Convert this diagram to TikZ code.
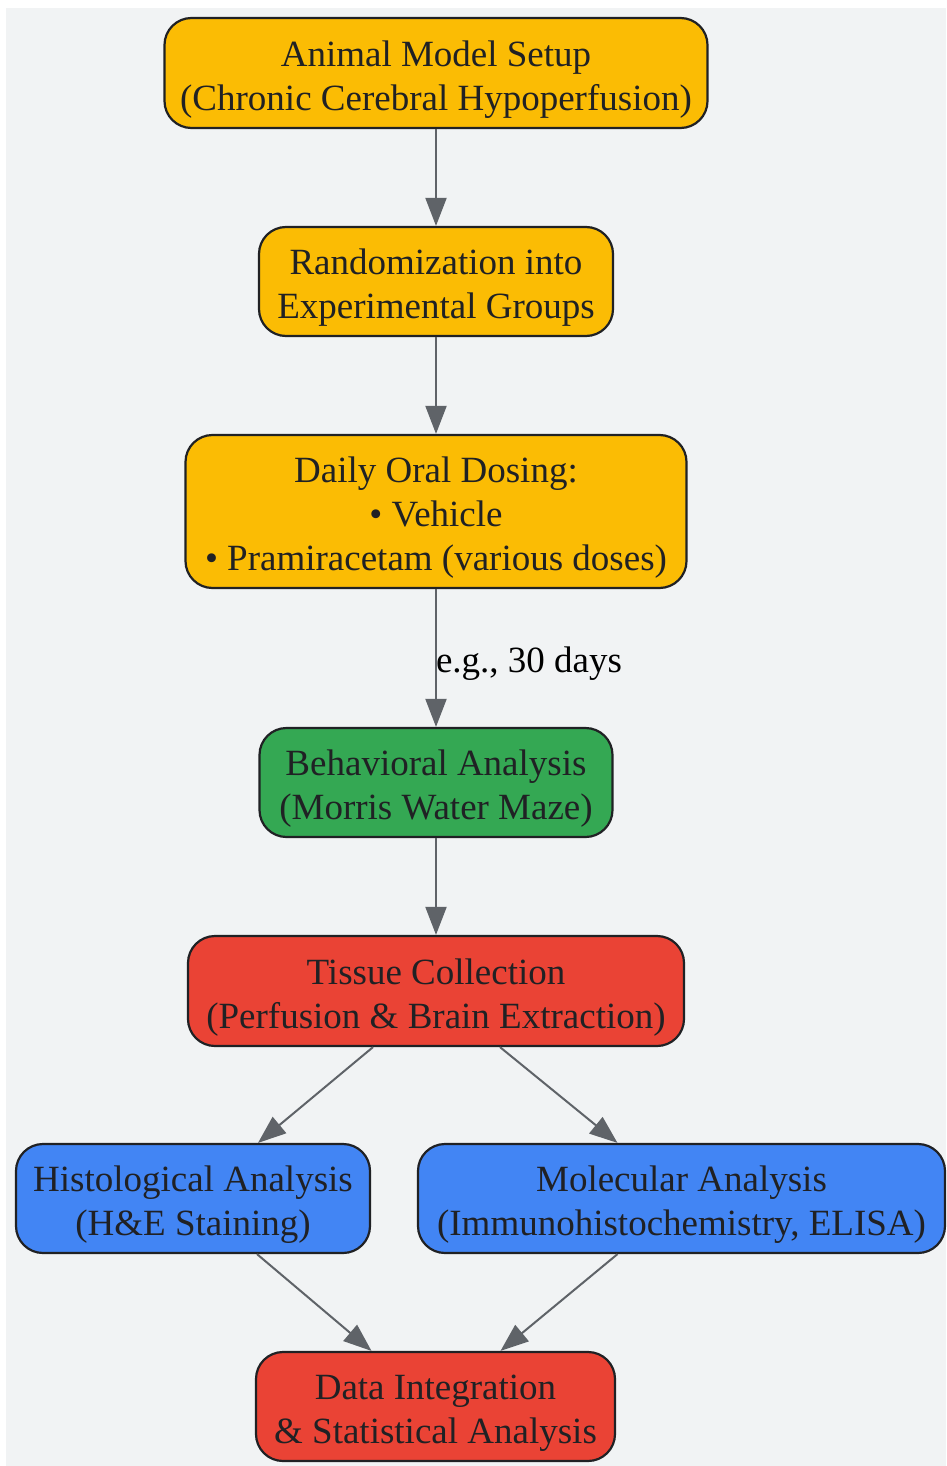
\documentclass[tikz,border=0pt]{standalone}
\usepackage{fontspec}
\setmainfont{Liberation Serif}
\usetikzlibrary{arrows.meta,calc}
\definecolor{bgc}{HTML}{F1F3F4}
\definecolor{yel}{HTML}{FBBC04}
\definecolor{grn}{HTML}{34A853}
\definecolor{redc}{HTML}{EA4335}
\definecolor{blu}{HTML}{4285F4}
\definecolor{bord}{HTML}{202124}
\definecolor{arr}{HTML}{5F6368}
\newcommand{\boxtext}[1]{\raisebox{-6.5pt}[\height][\depth]{\begin{tabular}{@{}c@{}}#1\end{tabular}}}
\tikzset{
  box/.style={draw=bord, line width=2.2pt, rounded corners=27pt,
    inner sep=0pt, text=bord, font=\fontsize{37}{44}\selectfont},
  conn/.style={draw=arr, line width=2pt, -{Triangle[length=28pt,width=21pt]}},
}
\begin{document}
\begin{tikzpicture}[x=1pt,y=-1pt]
\useasboundingbox (0,0) rectangle (946,1466);
\fill[white] (0,0) rectangle (946,1466);
\fill[bgc] (6,8) rectangle (946,1466);
\node[box, fill=yel, minimum width=543pt, minimum height=110pt] (setup) at (436,73) {\boxtext{Animal Model Setup\\(Chronic Cerebral Hypoperfusion)}};
\node[box, fill=yel, minimum width=354pt, minimum height=109pt] (rand) at (436,281.5) {\boxtext{Randomization into\\Experimental Groups}};
\node[box, fill=yel, minimum width=501pt, minimum height=153pt] (dose) at (436,511.5) {\boxtext{Daily Oral Dosing:\\• Vehicle\\• Pramiracetam (various doses)}};
\node[box, fill=grn, minimum width=353pt, minimum height=109pt] (behav) at (436,782.5) {\boxtext{Behavioral Analysis\\(Morris Water Maze)}};
\node[box, fill=redc, minimum width=496pt, minimum height=110pt] (tissue) at (436,991) {\boxtext{Tissue Collection\\(Perfusion \& Brain Extraction)}};
\node[box, fill=blu, minimum width=354pt, minimum height=109pt] (hist) at (193,1198.5) {\boxtext{Histological Analysis\\(H\&E Staining)}};
\node[box, fill=blu, minimum width=527pt, minimum height=109pt] (mol) at (681.5,1198.5) {\boxtext{Molecular Analysis\\(Immunohistochemistry, ELISA)}};
\node[box, fill=redc, minimum width=359pt, minimum height=109pt] (data) at (435.5,1406.5) {\boxtext{Data Integration\\\& Statistical Analysis}};

\draw[conn] (setup.south) -- (rand.north);
\draw[conn] (rand.south) -- (dose.north);
\draw[conn] (dose.south) -- node[right, inner sep=0pt, xshift=-1pt, yshift=-6pt, font=\fontsize{37}{44}\selectfont, text=black] (lbl) {e.g., 30 days} (behav.north);
\draw[conn] (behav.south) -- (tissue.north);
\draw[conn] ([xshift=-63pt]tissue.south) -- ([xshift=65pt]hist.north);
\draw[conn] ([xshift=64pt]tissue.south) -- ([xshift=-64pt]mol.north);
\draw[conn] ([xshift=64pt]hist.south) -- ([xshift=-64pt]data.north);
\draw[conn] ([xshift=-64pt]mol.south) -- ([xshift=65pt]data.north);
\end{tikzpicture}
\end{document}
